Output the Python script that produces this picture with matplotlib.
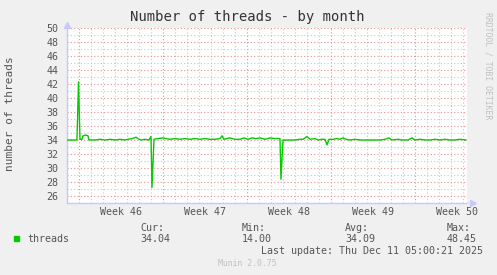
import numpy as np
import matplotlib
matplotlib.use("Agg")
import matplotlib.pyplot as plt

# days since start of graph window, thread count
days = [0, 0.83, 0.96, 1.08, 1.25, 1.33, 1.58, 1.75, 1.83, 2.33, 2.75, 3.17,
        3.58, 4.0, 4.42, 4.83, 5.08, 5.42, 5.75, 5.92, 6.17, 6.5, 6.83, 7.0,
        7.08, 7.25, 7.58, 8.0, 8.25, 8.58, 9.0, 9.42, 9.83, 10.25, 10.67,
        11.08, 11.5, 11.92, 12.33, 12.75, 12.92, 13.08, 13.58, 14.0, 14.42,
        14.75, 15.08, 15.42, 15.75, 16.08, 16.5, 16.92, 17.33, 17.75, 17.83,
        18.0, 18.58, 19.0, 19.42, 19.67, 20.0, 20.25, 20.67, 20.92, 21.25,
        21.5, 21.67, 21.83, 22.17, 22.5, 22.75, 23.0, 23.25, 23.58, 24.0,
        24.42, 24.83, 25.25, 25.67, 26.08, 26.5, 26.83, 27.08, 27.58, 27.92,
        28.42, 28.75, 29.0, 29.42, 29.83, 30.25, 30.67, 31.08, 31.5, 31.92,
        32.33, 32.75, 33.25]
threads = [34.0, 34.0, 42.3, 34.1, 34.1, 34.6, 34.7, 34.6, 34.0, 34.0, 34.1,
           34.0, 34.1, 34.0, 34.1, 34.0, 34.1, 34.2, 34.4, 34.2, 34.0, 34.1,
           34.0, 34.5, 27.2, 34.1, 34.2, 34.3, 34.2, 34.1, 34.2, 34.1, 34.2,
           34.1, 34.2, 34.1, 34.2, 34.1, 34.1, 34.2, 34.6, 34.1, 34.3, 34.1,
           34.1, 34.3, 34.1, 34.3, 34.2, 34.3, 34.1, 34.3, 34.2, 34.2, 28.4,
           34.0, 34.0, 34.0, 34.1, 34.1, 34.5, 34.1, 34.2, 34.0, 34.1, 34.1,
           33.3, 34.1, 34.1, 34.2, 34.1, 34.3, 34.1, 34.0, 34.1, 34.0, 34.0,
           34.0, 34.0, 34.0, 34.1, 34.3, 34.0, 34.1, 34.0, 34.0, 34.3, 34.0,
           34.1, 34.0, 34.0, 34.1, 34.0, 34.1, 34.0, 34.0, 34.1, 34.0]

week_days = [1, 8, 15, 22, 29]
week_labels = ["Week 46", "Week 47", "Week 48", "Week 49", "Week 50"]
stat_names = ["Cur:", "Min:", "Avg:", "Max:"]
stat_values = ["34.04", "14.00", "34.09", "48.45"]

mono = "DejaVu Sans Mono"
txt = "#555555"
bg = "#f0f0f0"
axcol = "#c8c8ff"

fig = plt.figure(figsize=(4.97, 2.75), dpi=100, facecolor=bg)
W, H = 497, 275
ax = fig.add_axes([67 / W, (H - 203) / H, 400 / W, 175 / H])
ax.set_facecolor("white")
ax.set_xlim(0, 400 / 12)
ax.set_ylim(25, 50)

# grid
for d in np.arange(0, 34):
    if d not in week_days:
        ax.axvline(d, color="#c8c8c8", lw=0.8, ls=(0, (1, 2)), zorder=1)
for d in week_days:
    ax.axvline(d, color="#e89090", lw=0.8, ls=(0, (1, 2)), zorder=1)
for v in range(26, 51):
    c = "#e89090" if v % 2 == 0 else "#c8c8c8"
    ax.axhline(v, color=c, lw=0.8, ls=(0, (1, 2)), zorder=1)

ax.plot(days, threads, color="#00cc00", lw=1.0, zorder=3)

for s in ["top", "right"]:
    ax.spines[s].set_visible(False)
for s in ["left", "bottom"]:
    ax.spines[s].set_color(axcol)
    ax.spines[s].set_linewidth(1)
ax.plot(0, 1.02, "^", color=axcol, ms=4, transform=ax.transAxes, clip_on=False)
ax.plot(1.015, 0, ">", color=axcol, ms=4, transform=ax.transAxes, clip_on=False)

ax.set_yticks(range(26, 51, 2))
ax.set_yticklabels([str(v) for v in range(26, 51, 2)], fontfamily=mono,
                   fontsize=7.2, color=txt)
ax.set_xticks([d + 3.5 for d in week_days])
ax.set_xticklabels(week_labels, fontfamily=mono, fontsize=7.2, color=txt)
ax.tick_params(axis="y", length=0, pad=6)
ax.tick_params(axis="x", length=0, pad=3)

fig.text(247 / W, 1 - 17 / H, "Number of threads - by month", ha="center",
         va="center", fontfamily=mono, fontsize=10, color="#333333")
fig.text(10 / W, 1 - 114 / H, "number of threads", rotation=90, ha="center",
         va="center", fontfamily=mono, fontsize=8, color=txt)
fig.text(488 / W, 1 - 12 / H, "RRDTOOL / TOBI OETIKER", rotation=270,
         ha="center", va="top", fontfamily=mono, fontsize=5.9, color="#c0c0c0")

# legend block
fig.patches.append(plt.Rectangle((14 / W, 1 - 241 / H), 5 / W, 5 / H,
                                 color="#00cc00", transform=fig.transFigure))
fig.text(27 / W, 1 - 239 / H, "threads", ha="left", va="center",
         fontfamily=mono, fontsize=7.2, color=txt)
for x0, n, v in zip([140, 242, 345, 447], stat_names, stat_values):
    fig.text(x0 / W, 1 - 228 / H, n, ha="left", va="center", fontfamily=mono,
             fontsize=7.2, color=txt)
    fig.text(x0 / W, 1 - 239 / H, v, ha="left", va="center", fontfamily=mono,
             fontsize=7.2, color=txt)
fig.text(261 / W, 1 - 251 / H, "Last update: Thu Dec 11 05:00:21 2025",
         ha="left", va="center", fontfamily=mono, fontsize=7.2, color=txt)
fig.text(218 / W, 1 - 264 / H, "Munin 2.0.75", ha="left", va="center",
         fontfamily=mono, fontsize=5.9, color="#c0c0c0")

fig.savefig("out.png", dpi=100, facecolor=bg)
